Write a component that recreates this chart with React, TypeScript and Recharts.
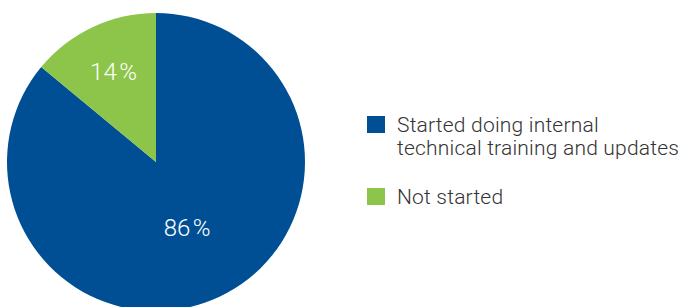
import { PieChart, Pie, Cell, Legend } from 'recharts'

const labels = ['Started doing internal technical training and updates', 'Not started']
const legendLines = [['Started doing internal', 'technical training and updates'], ['Not started']]
const values = [86, 14]
const colors = ['#004F95', '#8CC54A']

const data = labels.map((name, i) => ({ name, value: values[i] }))

const RADIAN = Math.PI / 180

function renderLabel(props: any) {
  const { cx, cy, midAngle, outerRadius, value, index } = props
  const r = outerRadius * (index === 0 ? 0.49 : 0.67)
  const x = cx + r * Math.cos(-midAngle * RADIAN)
  const y = cy + r * Math.sin(-midAngle * RADIAN)
  return (
    <text
      x={x}
      y={y}
      fill="#fff"
      textAnchor="middle"
      dominantBaseline="central"
      fontSize={24}
      fontWeight={300}
      fontFamily="Roboto, 'Liberation Sans', sans-serif"
    >
      {`${value}\u200A%`}
    </text>
  )
}

function LegendContent() {
  return (
    <div style={{ fontFamily: "Roboto, 'Liberation Sans', sans-serif", fontWeight: 300, fontSize: 21, letterSpacing: 0.2, color: '#333' }}>
      {legendLines.map((lines, i) => (
        <div key={i} style={{ display: 'flex', alignItems: 'flex-start', marginBottom: 26 }}>
          <span style={{ width: 18, height: 17, background: colors[i], marginTop: 2, marginRight: 12, flexShrink: 0 }} />
          <div style={{ lineHeight: '23px' }}>
            {lines.map((l, j) => (
              <div key={j}>{l}</div>
            ))}
          </div>
        </div>
      ))}
    </div>
  )
}

export default function App() {
  return (
    <div style={{ position: 'absolute', left: 0, top: 0, background: '#fff' }}>
      <PieChart width={680} height={307} margin={{ top: 0, right: 0, bottom: 0, left: 0 }}>
        <Pie
          data={data}
          dataKey="value"
          cx={156}
          cy={162}
          outerRadius={149}
          startAngle={90}
          endAngle={-270}
          stroke="none"
          label={renderLabel}
          labelLine={false}
          isAnimationActive={false}
        >
          {data.map((d, i) => (
            <Cell key={d.name} fill={colors[i]} />
          ))}
        </Pie>
        <Legend
          content={<LegendContent />}
          wrapperStyle={{ left: 367, top: 114, width: 313 }}
        />
      </PieChart>
    </div>
  )
}
